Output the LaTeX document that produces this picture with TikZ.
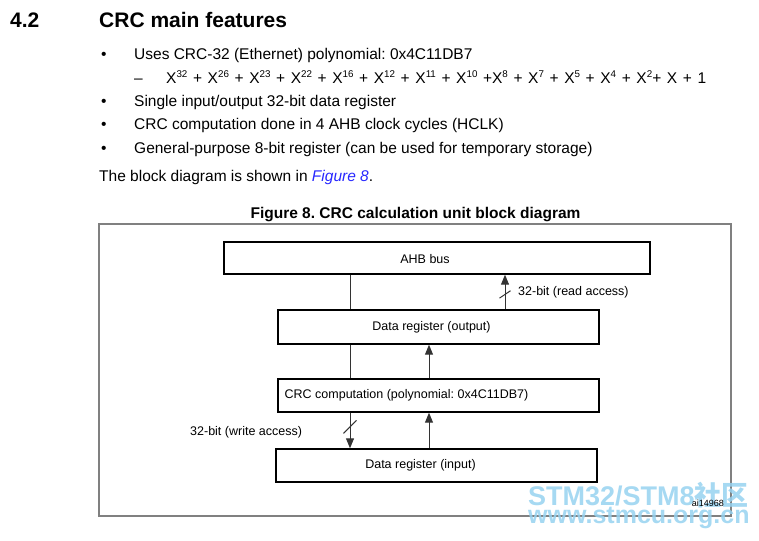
\documentclass[tikz,border=0pt]{standalone}
\usepackage{fontspec}
\setmainfont{Liberation Sans}
\newfontfamily\cjk{Noto Sans CJK SC}
\usetikzlibrary{arrows.meta}
\usetikzlibrary{calc}
\definecolor{linkblue}{RGB}{40,40,255}
\definecolor{wmblue}{RGB}{150,210,240}
\definecolor{framegray}{RGB}{128,128,128}
\newcommand{\xp}[1]{X\raisebox{5.6pt}{\fontsize{9.8}{10}\selectfont #1}}
\frenchspacing

\begin{document}
\begin{tikzpicture}[x=1pt,y=-1pt,inner sep=0pt,>={Triangle[length=10pt,width=8pt]},
  body/.style={anchor=base west,font=\fontsize{15.5}{18}\selectfont},
  head/.style={anchor=base west,font=\fontsize{21}{24}\bfseries\selectfont},
  blk/.style={draw,line width=1.4pt,minimum height=33pt},
  lbl/.style={font=\fontsize{12.5}{15}\selectfont},
  wire/.style={draw=black!80,line width=1pt}]
\useasboundingbox (0,0) rectangle (759,540);
% heading and bullet list
\node [head] (num)   at (10,27.5) {4.2};
\node [head] (title) at (99,27.5) {CRC main features};
\node [body] (b1) at (101,60)    {\textbullet};
\node [body] (t1) at (134,60)    {Uses CRC-32 (Ethernet) polynomial: 0x4C11DB7};
\node [body] (d2) at (134,83.3)  {--};
\node [body] (t2) at (166,83.3)  {\makebox[540pt][s]{\xp{32} + \xp{26} + \xp{23} + \xp{22} + \xp{16} + \xp{12} + \xp{11} + \xp{10} +\xp{8} + \xp{7} + \xp{5} + \xp{4} + \xp{2}+ X + 1}};
\node [body] (b3) at (101,106.7) {\textbullet};
\node [body] (t3) at (134,106.7) {Single input/output 32-bit data register};
\node [body] (b4) at (101,130)   {\textbullet};
\node [body] (t4) at (134,130)   {CRC computation done in 4 AHB clock cycles (HCLK)};
\node [body] (b5) at (101,153.5) {\textbullet};
\node [body] (t5) at (134,153.5) {General-purpose 8-bit register (can be used for temporary storage)};
\node [body] (t6) at (99,181.5)  {The block diagram is shown in {\color{linkblue}\itshape Figure 8}.};
% figure
\node [anchor=base,font=\fontsize{15.5}{18}\bfseries\selectfont] (cap) at (415.5,218) {Figure 8. CRC calculation unit block diagram};
\draw [framegray,line width=1.1pt] (99,224) rectangle (731,516);
\node [blk,minimum width=426pt,minimum height=32pt,label={[lbl,xshift=-12pt,yshift=-1pt]center:AHB bus}] (ahb) at (437,258) {};
\node [blk,minimum width=321pt,minimum height=34pt,label={[lbl,xshift=-7pt]center:Data register (output)}] (out) at (438.5,327) {};
\node [blk,minimum width=321pt,label={[lbl,xshift=-32pt]center:CRC computation (polynomial: 0x4C11DB7)}] (crc) at (438.5,395.5) {};
\node [blk,minimum width=321pt,label={[lbl,xshift=-16pt]center:Data register (input)}] (in) at (436.5,465.5) {};
\coordinate (L) at (350,0);
\coordinate (R) at (429,0);
\coordinate (T) at (505,0);
\draw [wire] (ahb.south -| L) -- (out.north -| L);
\draw [wire] (out.south -| L) -- (crc.north -| L);
\draw [wire,->] (crc.south -| L) -- (in.north -| L);
\draw [wire,->] (crc.north -| R) -- (out.south -| R);
\draw [wire,->] (in.north -| R) -- (crc.south -| R);
\draw [wire,->] (out.north -| T) -- (ahb.south -| T);
\draw [wire] ($ (crc.south -| L)!0.4!(in.north -| L) + (-6.5,6.5) $) -- ++(13,-13);
\draw [wire] ($ (out.north -| T)!0.43!(ahb.south -| T) + (-5.5,3.7) $) -- ++(11,-7.4);
\node [lbl,anchor=base west] (rd) at (518,295)   {32-bit (read access)};
\node [lbl,anchor=base west] (wr) at (190,435.5) {32-bit (write access)};
% watermark
\node [anchor=base west,text=wmblue,opacity=.85,font=\fontsize{27}{30}\bfseries\selectfont] (wm1) at (528,505) {STM32/STM8{\cjk 社区}};
\node [anchor=base west,text=wmblue,opacity=.85,font=\fontsize{25}{28}\bfseries\selectfont] (wm2) at (528,523) {www.stmcu.org.cn};
\node [anchor=base east,font=\fontsize{9}{10}\selectfont] (ref) at (724,506) {ai14968};
\end{tikzpicture}
\end{document}
